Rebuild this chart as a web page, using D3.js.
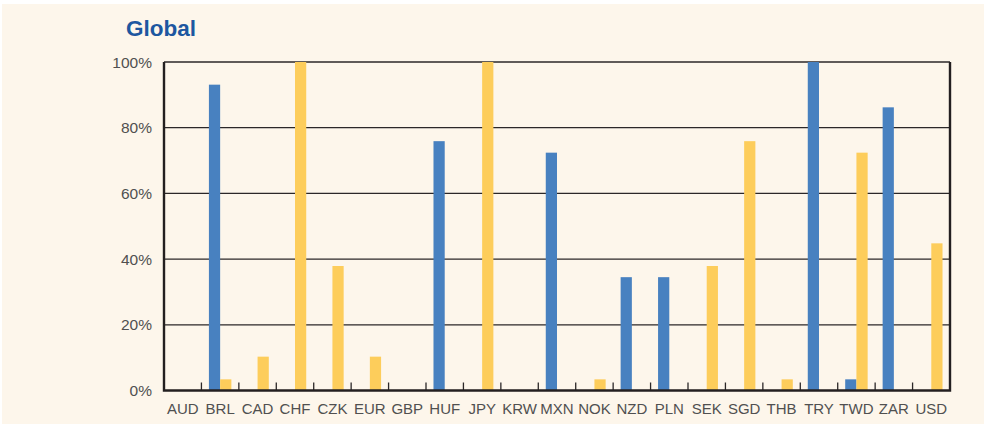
<!DOCTYPE html>
<html>
<head>
<meta charset="utf-8">
<script src="https://cdn.jsdelivr.net/npm/d3@7"></script>
<style>
  body { margin: 0; background: #fff; }
  text { font-family: "Liberation Sans", Arial, sans-serif; }
</style>
</head>
<body>
<svg id="chart"></svg>
<script>
const currencies = ["AUD","BRL","CAD","CHF","CZK","EUR","GBP","HUF","JPY","KRW","MXN",
                    "NOK","NZD","PLN","SEK","SGD","THB","TRY","TWD","ZAR","USD"];
const blueValues   = [0, 93.1, 0, 0, 0, 0, 0, 75.9, 0, 0, 72.4, 0, 34.5, 34.5, 0, 0, 0, 100, 3.4, 86.2, 0];
const yellowValues = [0, 3.4, 10.3, 100, 37.9, 10.3, 0, 0, 100, 0, 0, 3.4, 0, 0, 37.9, 75.9, 3.4, 0, 72.4, 0, 44.8];
const yTicks = [0, 20, 40, 60, 80, 100];

let w = 987, h = 428;
let margin = {left: 164, right: 37, top: 62, bottom: 37.5};

let svg = d3.select("#chart")
            .attr("width", w)
            .attr("height", h);

svg.append("rect")
   .attr("x", 2).attr("y", 4)
   .attr("width", 982).attr("height", 420)
   .attr("fill", "#fdf6eb");

svg.append("text")
   .attr("x", 126).attr("y", 36)
   .attr("font-size", 22.5)
   .attr("font-weight", "bold")
   .attr("fill", "#1d57a0")
   .text("Global");

let x = d3.scaleBand()
          .domain(currencies)
          .range([margin.left, w - margin.right]);

let y = d3.scaleLinear()
          .domain([0, 100])
          .range([h - margin.bottom, margin.top]);

// gridlines
svg.append("g")
   .selectAll("line")
   .data(yTicks.filter(d => d > 0))
   .enter()
   .append("line")
   .attr("x1", margin.left).attr("x2", w - margin.right)
   .attr("y1", d => y(d)).attr("y2", d => y(d))
   .attr("stroke", "#2b2728")
   .attr("stroke-width", 1.3);

// y labels
svg.append("g")
   .selectAll("text")
   .data(yTicks)
   .enter()
   .append("text")
   .attr("x", 152)
   .attr("y", d => y(d) + 5.5)
   .attr("text-anchor", "end")
   .attr("font-size", 15.5)
   .attr("fill", "#505050")
   .text(d => d + "%");

let barW = x.bandwidth() * 0.3;

let bars = svg.append("g");
bars.selectAll("rect.blue")
    .data(currencies)
    .enter()
    .append("rect")
    .attr("class", "blue")
    .attr("x", d => x(d) + x.bandwidth() / 2 - barW)
    .attr("width", barW)
    .attr("y", (d, i) => y(blueValues[i]))
    .attr("height", (d, i) => y(0) - y(blueValues[i]))
    .attr("fill", "#4881c0");

bars.selectAll("rect.yellow")
    .data(currencies)
    .enter()
    .append("rect")
    .attr("class", "yellow")
    .attr("x", d => x(d) + x.bandwidth() / 2)
    .attr("width", barW)
    .attr("y", (d, i) => y(yellowValues[i]))
    .attr("height", (d, i) => y(0) - y(yellowValues[i]))
    .attr("fill", "#fdcd5b");

// x axis ticks (inward, at band boundaries)
svg.append("g")
   .selectAll("line")
   .data(currencies.slice(1))
   .enter()
   .append("line")
   .attr("x1", d => x(d)).attr("x2", d => x(d))
   .attr("y1", y(0)).attr("y2", y(0) - 8)
   .attr("stroke", "#2b2728")
   .attr("stroke-width", 1.3);

// frame: left, bottom, right thick
let x0 = margin.left, x1 = w - margin.right, y0 = y(0), y1 = y(100);
svg.append("path")
   .attr("d", `M${x0},${y1}V${y0}H${x1}V${y1}`)
   .attr("fill", "none")
   .attr("stroke", "#231f20")
   .attr("stroke-width", 2.4);

// x labels
svg.append("g")
   .selectAll("text")
   .data(currencies)
   .enter()
   .append("text")
   .attr("x", d => x(d) + x.bandwidth() / 2)
   .attr("y", 414)
   .attr("text-anchor", "middle")
   .attr("font-size", 15)
   .attr("fill", "#505050")
   .text(d => d);
</script>
</body>
</html>
